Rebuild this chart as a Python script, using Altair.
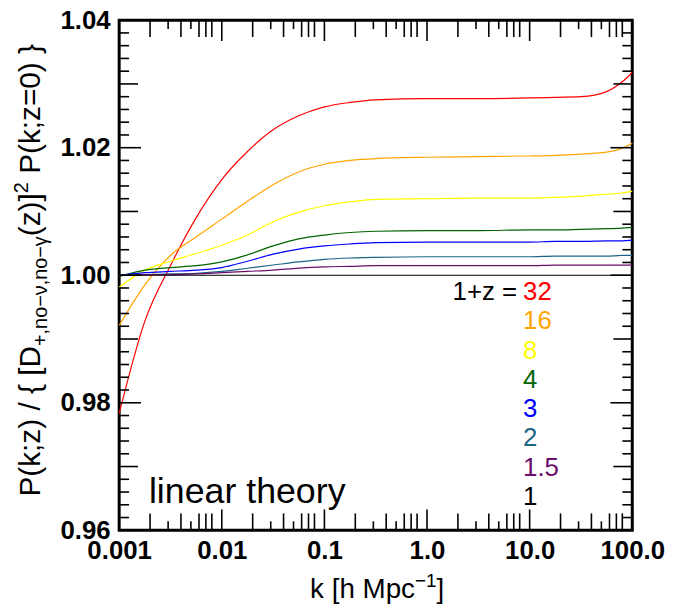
import altair as alt
import pandas as pd

# ---------------- data ----------------
k = [0.001, 0.00178, 0.00316, 0.00562, 0.01, 0.0178, 0.0316, 0.0562, 0.1, 0.178,
     0.316, 1.0, 3.16, 10.0, 17.8, 31.6, 56.2, 79.4, 100.0]

z32 = [0.9783, 0.9928, 1.0015, 1.0090, 1.0150, 1.0194, 1.0228, 1.0250, 1.0264, 1.0271,
       1.0275, 1.0277, 1.0277, 1.0278, 1.0279, 1.0280, 1.0288, 1.0303, 1.0318]
z16 = [0.9921, 0.9985, 1.0031, 1.0060, 1.0088, 1.0116, 1.0142, 1.0162, 1.0174, 1.0180,
       1.0183, 1.0185, 1.0186, 1.0187, 1.0188, 1.0190, 1.0193, 1.0199, 1.0207]
z8 = [0.9981, 1.0008, 1.0022, 1.0034, 1.0047, 1.0063, 1.0084, 1.0099, 1.0109, 1.0115,
      1.0119, 1.0120, 1.0121, 1.0121, 1.0122, 1.0124, 1.0127, 1.0129, 1.0132]
z4 = [0.9998, 1.0008, 1.0012, 1.0015, 1.0021, 1.0032, 1.0046, 1.0057, 1.0063, 1.0067,
      1.0069, 1.0070, 1.0070, 1.0071, 1.0071, 1.0072, 1.0073, 1.0074, 1.0075]
z3 = [1.0000, 1.0004, 1.0006, 1.0008, 1.0012, 1.0022, 1.0033, 1.0041, 1.0046, 1.0049,
      1.0051, 1.0052, 1.0052, 1.0052, 1.0053, 1.0053, 1.0054, 1.0054, 1.0055]
z2 = [1.0000, 1.0001, 1.0002, 1.0003, 1.0006, 1.0011, 1.0016, 1.0021, 1.0025, 1.0027,
      1.0028, 1.0029, 1.0029, 1.0029, 1.0030, 1.0030, 1.0030, 1.0031, 1.0031]
z15 = [1.0000, 1.0001, 1.0001, 1.0002, 1.0004, 1.0006, 1.0008, 1.0011, 1.0013, 1.0014,
       1.0015, 1.0015, 1.0015, 1.0015, 1.0016, 1.0016, 1.0016, 1.0016, 1.0016]
z1 = [1.0, 1.0, 1.0, 1.0, 1.0, 1.0, 1.0, 1.0, 1.0, 1.0,
      1.0, 1.0, 1.0, 1.0, 1.0, 1.0, 1.0, 1.0, 1.0]

series_labels = ["32", "16", "8", "4", "3", "2", "1.5", "1"]
series_values = [z32, z16, z8, z4, z3, z2, z15, z1]
series_colors = ["#ff0000", "#ffa500", "#ffff00", "#006400", "#0000ff", "#1e6487", "#6b0d6b", "#000000"]

x_tick_values = [0.001, 0.01, 0.1, 1.0, 10.0, 100.0]
x_tick_labels = ["0.001", "0.01", "0.1", "1.0", "10.0", "100.0"]
y_tick_values = [0.96, 0.98, 1.00, 1.02, 1.04]
y_mid_values = [0.97, 0.99, 1.01, 1.03]

# ---------------- layout ----------------
FONT = "Liberation Sans"
W, H = 517, 514
PL, PT = 120, 18          # page position of plot origin
pad = {"left": PL - 8, "top": PT - 8, "right": 35, "bottom": 72}

rows = []
for lab, vals in zip(series_labels, series_values):
    for kk, v in zip(k, vals):
        rows.append({"k": kk, "P": v, "series": lab})
df = pd.DataFrame(rows)

xscale = alt.Scale(type="log", domain=[0.001, 100], nice=False)
yscale = alt.Scale(domain=[0.96, 1.04], nice=False, zero=False)

label_expr = " : ".join(
    [f"abs(datum.value - {v}) < {v * 1e-3} ? '{t}'" for v, t in zip(x_tick_values, x_tick_labels)]
) + " : ''"

xaxis = alt.Axis(values=x_tick_values, labelExpr=label_expr, ticks=False, tickSize=0, domain=False,
                 grid=False, labelFont=FONT, labelFontSize=26, labelFontWeight="bold",
                 labelColor="black", labelPadding=7, labelFlush=False, labelOverlap=False, title=None)
yaxis = alt.Axis(values=y_tick_values, format=".2f", ticks=False, tickSize=0, domain=False,
                 grid=False, labelFont=FONT, labelFontSize=26, labelFontWeight="bold",
                 labelColor="black", labelPadding=9, labelOverlap=False, title=None)

lines = alt.Chart(df).mark_line(strokeWidth=1.2, interpolate="monotone").encode(
    x=alt.X("k:Q", scale=xscale, axis=xaxis),
    y=alt.Y("P:Q", scale=yscale, axis=yaxis),
    color=alt.Color("series:N", scale=alt.Scale(domain=series_labels, range=series_colors), legend=None),
)

layers = [lines]

# y ticks (inward, both sides)
y_minor = [round(0.96 + 0.002 * i, 3) for i in range(1, 40) if i % 5 != 0]


def ytick(values, length):
    d = pd.DataFrame({"v": values})
    left = alt.Chart(d).mark_rule(color="black", strokeWidth=1.6).encode(
        y=alt.Y("v:Q", scale=yscale, axis=yaxis), x=alt.value(0), x2=alt.value(length))
    right = alt.Chart(d).mark_rule(color="black", strokeWidth=1.6).encode(
        y=alt.Y("v:Q", scale=yscale, axis=yaxis), x=alt.value(W), x2=alt.value(W - length))
    return [left, right]


layers += ytick(y_minor, 10) + ytick(y_mid_values, 19) + ytick(y_tick_values, 22)

# x ticks (inward, both sides)
x_minor_long = [m * 10.0 ** e for e in range(-3, 2) for m in (2, 4, 6, 7, 8)]
x_minor_short = [m * 10.0 ** e for e in range(-3, 2) for m in (3, 5)]


def xtick(values, length):
    d = pd.DataFrame({"v": values})
    bot = alt.Chart(d).mark_rule(color="black", strokeWidth=1.6).encode(
        x=alt.X("v:Q", scale=xscale, axis=xaxis), y=alt.value(H), y2=alt.value(H - length))
    top = alt.Chart(d).mark_rule(color="black", strokeWidth=1.6).encode(
        x=alt.X("v:Q", scale=xscale, axis=xaxis), y=alt.value(0), y2=alt.value(length))
    return [bot, top]


layers += xtick(x_minor_long, 17) + xtick(x_minor_short, 9) + xtick(x_tick_values, 21)


def text(t, x, y, size, color="black", angle=0, align="left", baseline="alphabetic", weight="normal"):
    return alt.Chart(pd.DataFrame({"t": [t]})).mark_text(
        font=FONT, fontSize=size, color=color, angle=angle, align=align,
        baseline=baseline, fontWeight=weight).encode(
        x=alt.value(x), y=alt.value(y), text="t:N")


# Helvetica/Arial advance widths (per em) for layout of composite titles
CW = {' ': .278, '(': .333, ')': .333, 'P': .667, 'k': .5, ';': .278, 'z': .5, '/': .278,
      '{': .334, '}': .334, '[': .278, ']': .278, 'D': .722, '+': .584, ',': .278, 'n': .556,
      'o': .556, '\u2212': .584, '\u03bd': .5, '\u03b3': .5, '2': .556, '=': .584, '0': .556,
      'h': .556, 'M': .833, 'p': .556, 'c': .5, '1': .556}


def tw(s, size):
    return sum(CW.get(ch, .556) for ch in s) * size


# y-axis title, rotated, with sub/superscripts (leading gaps applied as offsets)
YS, YSS = 30, 20
ypieces = [("P(k;z) / { [D", YS, 0, 0), ("+,no\u2212\u03bd,no\u2212\u03b3", YSS, 7, 0),
           ("(z)]", YS, 0, 0), ("2", YSS, -12, 0), ("P(k;z=0) }", YS, 0, 0.278 * YS)]
ybase = 40 - PL
ycur = 498 - PT
for s, sz, shift, gap in ypieces:
    ycur -= gap
    layers.append(text(s, ybase + shift, ycur, sz, angle=270))
    ycur -= tw(s, sz)

# x-axis title
XS, XSS = 28, 19
xpieces = [("k [h Mpc", XS, 0), ("\u22121", XSS, -11), ("]", XS, 0)]
total = sum(tw(s, sz) for s, sz, _ in xpieces)
xcur = 380 - total / 2 - PL
for s, sz, shift in xpieces:
    layers.append(text(s, xcur, 600 - PT + shift, sz))
    xcur += tw(s, sz)

# annotations
layers.append(text("linear theory", 150 - PL, 504 - PT, 36))
layers.append(text("1+z =", 521 - PL, 292 - PT, 26, baseline="middle", align="right"))
for i, (lab, col) in enumerate(zip(series_labels, series_colors)):
    layers.append(text(lab, 527 - PL, 292 + 29.5 * i - PT, 26, color=col, baseline="middle"))

chart = alt.layer(*layers).properties(
    width=W, height=H, padding=pad, autosize=alt.AutoSizeParams(type="none"),
    background="white",
).configure_view(stroke="black", strokeWidth=3)

chart.save("out.html", embed_options={"renderer": "svg", "actions": False})
